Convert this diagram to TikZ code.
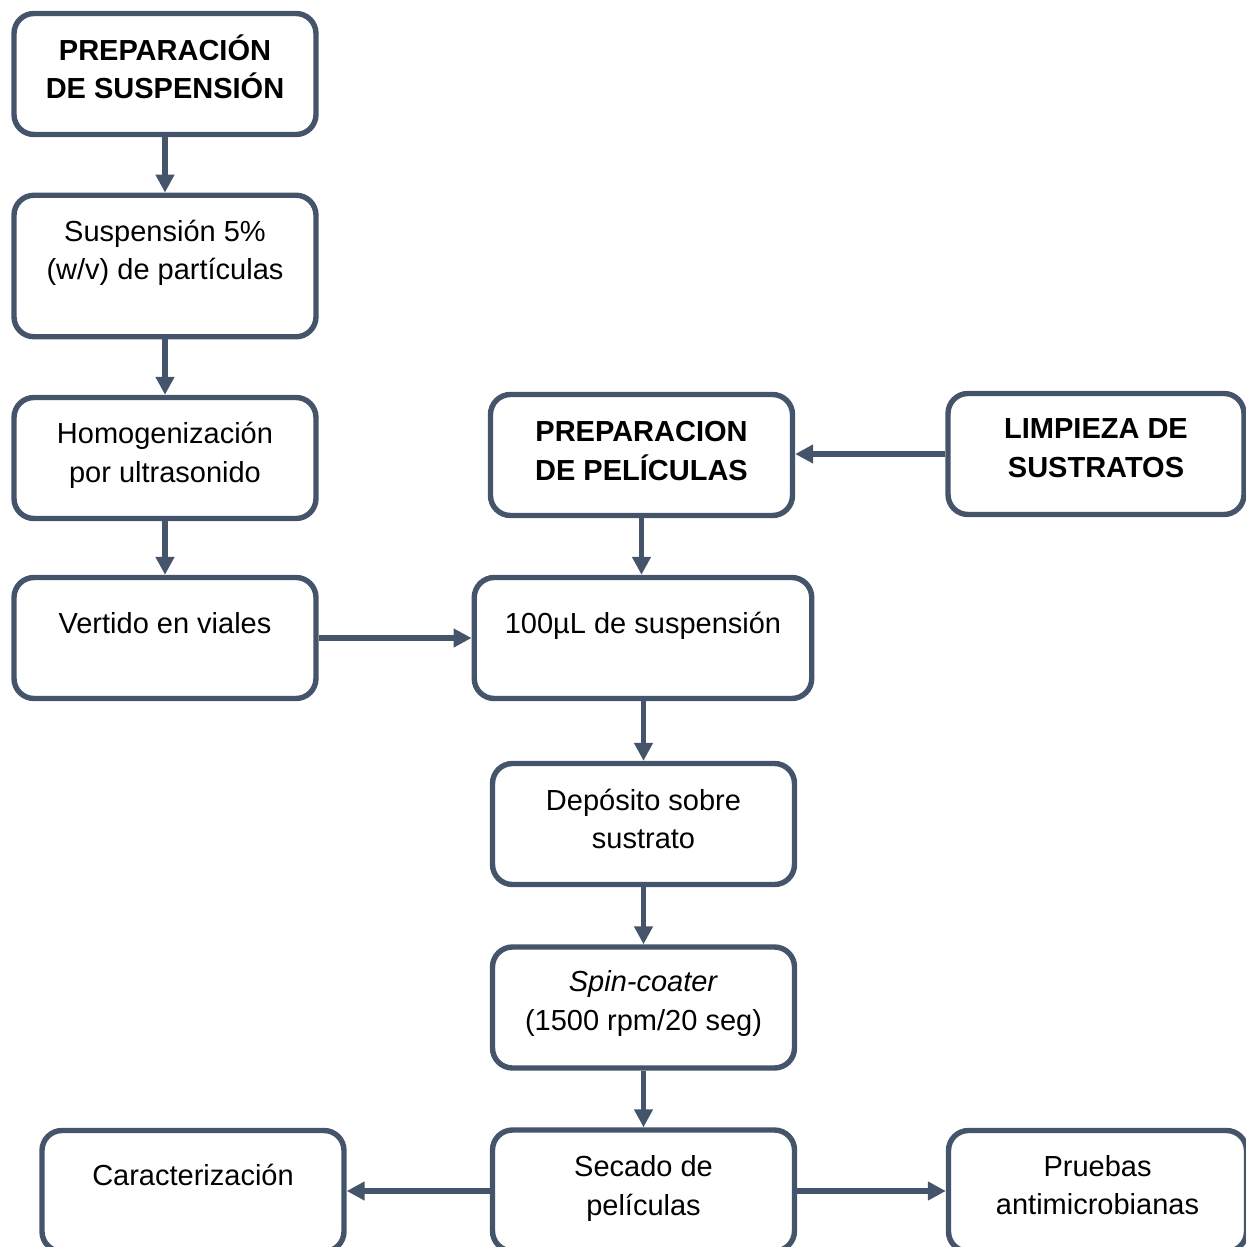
\documentclass[tikz,border=0pt]{standalone}
\usepackage{fontspec}
\setmainfont{Liberation Sans}
\usetikzlibrary{arrows.meta}
\definecolor{pizarra}{RGB}{68,84,106}
\tikzset{
  >={Triangle[length=9pt,width=9pt]},
  caja/.style={draw=pizarra,line width=2.7pt,rounded corners=10pt,fill=white,
    minimum width=151pt,minimum height=60.5pt,align=center,inner sep=2pt,
    font=\fontsize{14.5pt}{19.25pt}\selectfont,text height=#1,text depth=10pt},
  caja/.default=33.5pt,
  titulo/.style={caja=#1,font=\fontsize{14.5pt}{19.25pt}\selectfont\bfseries},
  titulo/.default=33.5pt,
  flecha/.style={->,line width=2.7pt,draw=pizarra},
}
\begin{document}
\begin{tikzpicture}[x=0.5pt,y=-0.5pt]
  \useasboundingbox (0,0) rectangle (1246,1247);
  \clip (0,0) rectangle (1246,1247);
  % left column
  \node[titulo=34.5pt] (prepsusp) at (165,74) {PREPARACIÓN\\DE SUSPENSIÓN};
  \node[caja=23.5pt,minimum height=70.75pt] (susp) at (165,266) {Suspensión 5\%\\(w/v) de partículas};
  \node[caja=34pt] (homog) at (165,458) {Homogenización\\por ultrasonido};
  \node[caja=5pt] (vertido) at (165,638) {Vertido en viales};
  % middle column
  \node[titulo=35pt] (preppel) at (641.5,455) {PREPARACION\\DE PELÍCULAS};
  \node[titulo=33pt,minimum width=148pt] (limpieza) at (1096,454) {LIMPIEZA DE\\SUSTRATOS};
  \node[caja=5pt,minimum width=168.75pt] (volumen) at (643,638) {100µL de suspensión};
  \node[caja=34.5pt] (deposito) at (643.5,824) {Depósito sobre\\sustrato};
  \node[caja=32.7pt] (spin) at (643.5,1007.5) {\textit{Spin-coater}\\(1500 rpm/20 seg)};
  \node[caja=34.5pt] (secado) at (643.5,1190.5) {Secado de\\películas};
  % bottom row
  \node[caja=4pt] (caract) at (193,1191) {Caracterización};
  \node[caja=33.5pt,minimum width=149pt] (pruebas) at (1097.5,1191) {Pruebas\\antimicrobianas};
  % arrows
  \draw[flecha] (prepsusp) -- (susp);
  \draw[flecha] (susp) -- (homog);
  \draw[flecha] (homog) -- (vertido);
  \draw[flecha] (vertido) -- (volumen);
  \draw[flecha] (limpieza.west) -- (limpieza.west -| preppel.east);
  \draw[flecha] (preppel.south) -- (preppel.south |- volumen.north);
  \draw[flecha] (volumen.south -| deposito.north) -- (deposito.north);
  \draw[flecha] (deposito) -- (spin);
  \draw[flecha] (spin) -- (secado);
  \draw[flecha] (secado.west |- caract.east) -- (caract.east);
  \draw[flecha] (secado.east |- pruebas.west) -- (pruebas.west);
\end{tikzpicture}
\end{document}
